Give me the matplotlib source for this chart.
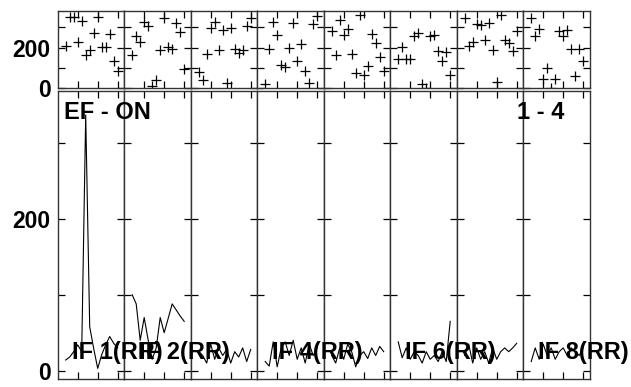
import matplotlib
matplotlib.use("Agg")
import matplotlib.pyplot as plt
from matplotlib.ticker import FixedLocator

plt.rcParams['font.family'] = ['Liberation Sans', 'DejaVu Sans']

# x positions shared by all panels
x_vals = list(range(2, 16))

# top strip: scatter values per panel (IF 1..8)
scatter_vals = [
    [210, 351, 352, 227, 329, 164, 186, 274, 350, 201, 205, 268, 136, 85],
    [164, 255, 230, 325, 304, 11, 41, 189, 345, 201, 194, 320, 276, 95],
    [79, 41, 168, 296, 325, 186, 287, 25, 296, 192, 173, 186, 304, 348],
    [20, 192, 325, 260, 115, 104, 197, 320, 135, 217, 87, 25, 317, 353],
    [283, 164, 337, 263, 293, 169, 74, 358, 66, 112, 268, 225, 156, 87],
    [144, 205, 144, 144, 255, 271, 20, 0, 255, 263, 181, 135, 177, 66],
    [345, 208, 230, 317, 309, 235, 320, 186, 30, 361, 238, 225, 181, 284],
    [345, 255, 293, 46, 99, 3, 46, 284, 255, 287, 192, 61, 192, 136],
]

# bottom strip: line values per panel
line_vals = [
    [14, 18, 25, 34, 25, 337, 58, 29, 3, 21, 34, 45, 36, 30],
    [100, 88, 40, 70, 40, 15, 30, 70, 50, 69, 88, 80, 72, 65],
    [25, 20, 10, 35, 15, 30, 20, 28, 10, 25, 18, 30, 12, 28],
    [12, 6, 38, 5, 30, 38, 20, 40, 15, 30, 10, 35, 20, 30],
    [20, 10, 30, 15, 35, 25, 5, 20, 25, 16, 30, 20, 32, 25],
    [38, 17, 30, 15, 25, 20, 10, 25, 15, 20, 12, 25, 12, 65],
    [20, 35, 10, 30, 15, 25, 10, 30, 15, 25, 30, 25, 30, 36],
    [12, 30, 15, 35, 20, 30, 15, 25, 30, 20, 30, 25, 20, 30],
]

panel_labels = {0: "IF 1(RR)", 1: "IF 2(RR)", 3: "IF 4(RR)", 5: "IF 6(RR)", 7: "IF 8(RR)"}
title_left = "EF - ON"
title_right = "1 - 4"

W, H = 631, 387
fig = plt.figure(figsize=(W / 100, H / 100), dpi=100)

left_px = 57.7
panel_w = 66.5
top_y0, top_y1 = 11.0, 88.3
bot_y0, bot_y1 = 90.7, 379.0

def style(ax, ylim, show_labels):
    ax.set_xlim(0, panel_w / 4.0)
    ax.set_ylim(*ylim)
    ax.xaxis.set_major_locator(FixedLocator([5, 10, 15]))
    ax.yaxis.set_major_locator(FixedLocator([0, 200]))
    ax.yaxis.set_minor_locator(FixedLocator([100, 300]))
    ax.tick_params(which='both', direction='in', length=5, width=0.9,
                   top=True, right=True, bottom=True, left=True,
                   labelbottom=False, labelleft=show_labels, color='black')
    ax.tick_params(axis='y', labelsize=16.5, pad=5)
    for lab in ax.get_yticklabels():
        lab.set_fontweight('bold')
    for s in ax.spines.values():
        s.set_linewidth(1.0)
        s.set_color('#333333')

for i in range(8):
    x0 = (left_px + i * panel_w) / W
    w = panel_w / W
    axt = fig.add_axes([x0, 1 - top_y1 / H, w, (top_y1 - top_y0) / H])
    axt.plot(x_vals, scatter_vals[i], linestyle='none', marker='+',
             markersize=6.5, markeredgewidth=0.9, color='black')
    style(axt, (0, 380), i == 0)

    axb = fig.add_axes([x0, 1 - bot_y1 / H, w, (bot_y1 - bot_y0) / H])
    axb.plot(x_vals, line_vals[i], color='black', linewidth=0.8)
    style(axb, (-11, 369), i == 0)

    if i in panel_labels:
        fig.text((left_px + i * panel_w + 14.5) / W, 1 - 359 / H, panel_labels[i],
                 fontsize=17, fontweight='bold', va='baseline', ha='left')

fig.text(64 / W, 1 - 119 / H, title_left, fontsize=17, fontweight='bold',
         va='baseline', ha='left')
fig.text(517 / W, 1 - 119 / H, title_right, fontsize=17, fontweight='bold',
         va='baseline', ha='left')

fig.savefig("out.png", dpi=100)
